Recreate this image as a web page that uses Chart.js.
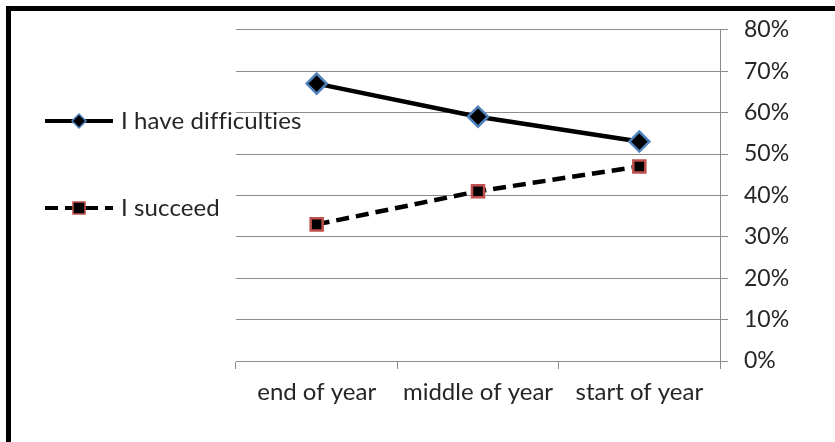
<!DOCTYPE html>
<html>
<head>
<meta charset="utf-8">
<script src="https://cdn.jsdelivr.net/npm/chart.js@4/dist/chart.umd.min.js"></script>
<style>
  html, body { margin: 0; padding: 0; background: #fff; }
  #wrap { width: 835px; height: 442px; position: relative; }
</style>
</head>
<body>
<div id="wrap"><canvas id="c" width="835" height="442"></canvas></div>
<script>
// Survey periods along the horizontal axis
const periods = ['end of year', 'middle of year', 'start of year'];
// Share of pupils answering each statement (%)
const difficulties = [67, 59, 53];
const succeed = [33, 41, 47];
// Right-hand percentage axis
const yTicks = [0, 10, 20, 30, 40, 50, 60, 70, 80];

const FONT = 'Lato, "Open Sans", sans-serif';
const GRID = '#8c8c8c';
const TEXT = '#262626';

// Frame around the figure and the hand-placed legend on the left
const decor = {
  id: 'decor',
  afterDraw(chart) {
    const ctx = chart.ctx;
    ctx.save();
    ctx.fillStyle = '#000';
    ctx.fillRect(6, 6, 829, 5);
    ctx.fillRect(6, 6, 5, 436);

    const items = [
      { y: 121, label: 'I have difficulties', ds: chart.data.datasets[0] },
      { y: 208, label: 'I succeed', ds: chart.data.datasets[1] }
    ];
    items.forEach(it => {
      ctx.strokeStyle = '#000';
      ctx.lineWidth = 4;
      ctx.setLineDash(it.ds.borderDash || []);
      ctx.beginPath();
      ctx.moveTo(45, it.y);
      ctx.lineTo(113, it.y);
      ctx.stroke();
      ctx.setLineDash([]);
      ctx.fillStyle = '#000';
      ctx.strokeStyle = it.ds.pointBorderColor;
      ctx.lineWidth = 1.5;
      ctx.beginPath();
      if (it.ds.pointStyle === 'rectRot') {
        ctx.moveTo(79, it.y - 7); ctx.lineTo(86, it.y); ctx.lineTo(79, it.y + 7); ctx.lineTo(72, it.y);
        ctx.closePath();
      } else {
        ctx.rect(73, it.y - 6, 12, 12);
      }
      ctx.fill();
      ctx.stroke();
      ctx.fillStyle = TEXT;
      ctx.font = '24px ' + FONT;
      // a tiny letter spacing keeps "ti" from merging into a ligature
      ctx.letterSpacing = '0.1px';
      ctx.textBaseline = 'middle';
      ctx.textAlign = 'left';
      ctx.fillText(it.label, 121, it.y);
    });
    ctx.restore();
  }
};

new Chart(document.getElementById('c'), {
  type: 'line',
  data: {
    labels: periods,
    datasets: [
      {
        label: 'I have difficulties',
        data: difficulties,
        borderColor: '#000',
        borderWidth: 4.5,
        pointStyle: 'rectRot',
        pointRadius: 10,
        pointBackgroundColor: '#000',
        pointBorderColor: '#4f81bd',
        pointBorderWidth: 2.5,
        tension: 0
      },
      {
        label: 'I succeed',
        data: succeed,
        borderColor: '#000',
        borderWidth: 4.5,
        borderDash: [13, 7],
        pointStyle: 'rect',
        pointRadius: 8.5,
        pointBackgroundColor: '#000',
        pointBorderColor: '#c0504d',
        pointBorderWidth: 2.5,
        tension: 0
      }
    ]
  },
  options: {
    responsive: false,
    animation: false,
    layout: { padding: { left: 236, top: 29, right: 0, bottom: 0 } },
    plugins: { legend: { display: false }, tooltip: { enabled: false } },
    scales: {
      x: {
        offset: true,
        grid: { offset: true, drawOnChartArea: false, drawTicks: true, tickLength: 8, color: GRID },
        border: { color: GRID, width: 1 },
        ticks: { color: TEXT, font: { family: FONT, size: 24 }, padding: 9, maxRotation: 0 },
        afterFit(scale) { scale.height = 442 - 361; }
      },
      y: {
        position: 'right',
        min: 0,
        max: 80,
        afterBuildTicks(scale) { scale.ticks = yTicks.map(v => ({ value: v })); },
        grid: { color: GRID, tickLength: 8 },
        border: { color: GRID, width: 1 },
        ticks: {
          color: TEXT,
          font: { family: FONT, size: 23 },
          padding: 16,
          callback: v => v + '%'
        },
        afterFit(scale) { scale.width = 835 - 720; }
      }
    }
  },
  plugins: [decor]
});
</script>
</body>
</html>
